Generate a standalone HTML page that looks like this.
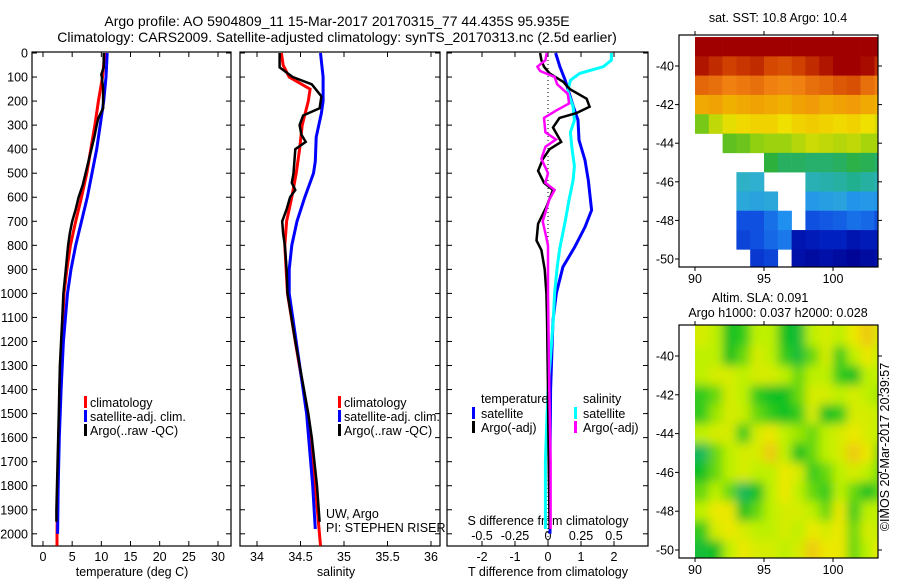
<!DOCTYPE html>
<html><head><meta charset="utf-8"><style>
body{margin:0;background:#fff;}
svg{display:block;font-family:"Liberation Sans",sans-serif;}
text{font-size:12.5px;fill:#000;}
.title{font-size:14px;}
</style></head><body>
<svg id="fig" width="900" height="580" viewBox="0 0 900 580">
<defs>
<filter id="blur" x="-5%" y="-5%" width="110%" height="110%"><feGaussianBlur stdDeviation="5"/></filter>
<clipPath id="clipSla"><rect x="695" y="325" width="183" height="233"/></clipPath>
</defs>
<text class="title" x="337" y="26" text-anchor="middle">Argo profile: AO 5904809_11 15-Mar-2017 20170315_77 44.435S 95.935E</text>
<text class="title" x="337" y="42" text-anchor="middle">Climatology: CARS2009. Satellite-adjusted climatology: synTS_20170313.nc (2.5d earlier)</text>
<g id="g"></g>
</svg>
<script>
// ---------- data ----------
var depthTicks=[0,100,200,300,400,500,600,700,800,900,1000,1100,1200,1300,1400,1500,1600,1700,1800,1900,2000];
var tempTicks=[0,5,10,15,20,25,30];
var salTicks=[34,34.5,35,35.5,36];
var salTickLabels=["34","34.5","35","35.5","36"];
var tdiffTicks=[-2,-1,0,1,2];
var sdiffTicks=[-0.5,-0.25,0,0.25,0.5];
var sdiffTickLabels=["-0.5","-0.25","0","0.25","0.5"];

var tArgoD=[0,60,90,100,150,200,230,250,270,300,350,400,450,500,550,600,650,700,750,800,900,1000,1100,1200,1300,1400,1500,1600,1700,1800,1900,1950];
var tArgoV=[10.4,10.4,10.0,10.1,10.3,10.3,10.3,9.9,9.5,9.2,8.8,8.3,7.8,7.3,6.8,6.1,5.6,5.0,4.6,4.3,3.9,3.5,3.3,3.1,2.9,2.8,2.7,2.6,2.5,2.4,2.3,2.3];
var tClimD=[0,100,200,300,400,500,600,700,800,900,1000,1200,1400,1600,1800,2000,2050];
var tClimV=[10.6,10.2,9.5,8.9,8.2,7.5,6.6,5.6,4.7,4.1,3.6,3.2,2.9,2.7,2.5,2.4,2.4];
var tSatD=[0,100,200,300,400,500,600,700,800,900,1000,1200,1400,1600,1800,2000];
var tSatV=[11.0,10.8,10.4,9.8,9.2,8.4,7.6,6.6,5.6,4.8,4.2,3.5,3.1,2.8,2.6,2.5];

var sArgoD=[0,60,100,130,180,230,260,300,340,370,400,450,500,540,570,600,650,700,750,800,900,1000,1200,1400,1500,1600,1800,1950];
var sArgoV=[34.26,34.26,34.41,34.63,34.74,34.72,34.53,34.49,34.51,34.56,34.44,34.43,34.42,34.40,34.44,34.38,34.34,34.29,34.30,34.32,34.34,34.35,34.44,34.54,34.59,34.63,34.69,34.72];
var sClimD=[0,50,100,150,200,300,400,500,600,700,800,1000,1200,1500,1800,2050];
var sClimV=[34.28,34.30,34.37,34.61,34.59,34.52,34.49,34.45,34.40,34.34,34.32,34.35,34.44,34.58,34.67,34.73];
var sSatD=[0,100,200,250,350,450,500,600,700,800,900,1000,1200,1500,1800,1980];
var sSatV=[34.73,34.76,34.76,34.74,34.68,34.67,34.65,34.55,34.46,34.40,34.37,34.37,34.45,34.57,34.64,34.67];

var dtSatD=[0,57,113,224,279,362,446,529,654,724,807,890,1000,1112,1400,1700,2000];
var dtSatV=[0.23,0.36,0.52,0.77,0.91,0.94,1.12,1.22,1.32,1.12,0.81,0.45,0.25,0.15,0.08,0.06,0.06];
var dsSatD=[0,30,57,85,113,160,224,280,330,390,470,530,610,700,810,890,1000,1112,1400,1700,1980];
var dsSatV=[0.48,0.48,0.42,0.24,0.17,0.15,0.19,0.20,0.17,0.18,0.20,0.19,0.16,0.13,0.09,0.07,0.05,0.04,0.0,-0.02,-0.02];
var dtArgoD=[0,30,57,85,120,150,190,224,250,270,310,370,400,440,490,540,570,640,710,780,820,900,1000,1100,1400,1700,1980];
var dtArgoV=[-0.24,-0.2,-0.12,0.05,0.46,0.66,1.17,1.26,0.86,0.35,0.15,0.40,0.05,-0.15,-0.30,-0.12,0.15,-0.05,-0.30,-0.35,-0.2,-0.1,-0.05,-0.03,0.0,0.02,0.05];
var dsArgoD=[0,30,57,75,100,130,170,210,240,270,330,360,390,440,500,540,570,610,700,750,800,1000,1400,1700,1980];
var dsArgoV=[-0.01,-0.02,-0.08,-0.06,0.05,0.07,0.15,0.16,0.06,-0.03,-0.02,0.06,-0.02,-0.05,0.0,-0.02,0.05,0.01,-0.04,-0.02,0.0,0.0,0.01,0.02,0.02];

var mapLons=[90,91,92,93,94,95,96,97,98,99,100,101,102,103];
var mapLats=[-38.5,-39.5,-40.5,-41.5,-42.5,-43.5,-44.5,-45.5,-46.5,-47.5,-48.5,-49.5];
var N=null;
var sstGrid=[
[12.6,12.6,12.6,12.6,12.6,12.5,12.5,12.4,12.4,12.5,12.6,12.6,12.5,12.4],
[12.2,12.0,11.8,11.9,12.0,11.7,11.6,11.8,12.0,12.2,12.4,12.5,12.3,12.0],
[11.3,11.2,11.0,11.1,11.2,11.0,10.9,11.0,11.2,11.3,11.5,11.6,11.2,11.0],
[10.4,10.5,10.3,10.4,10.5,10.4,10.3,10.5,10.6,10.4,10.5,10.6,10.4,10.3],
[8.6,9.2,9.5,9.7,9.8,9.8,9.6,9.8,9.9,9.8,9.7,9.8,9.6,9.4],
[N,N,8.4,8.5,8.8,8.9,8.9,9.1,9.3,9.2,9.1,9.2,9.0,9.0],
[N,N,N,N,N,7.9,7.6,7.6,7.5,7.5,7.6,7.8,7.7,7.5],
[N,N,N,6.6,6.5,N,N,N,6.8,6.9,7.0,7.2,7.0,6.8],
[N,N,N,6.3,6.2,6.3,N,N,6.0,6.1,6.2,5.9,6.0,5.9],
[N,N,N,5.0,5.0,5.4,5.8,N,5.0,5.1,5.2,5.4,5.3,5.0],
[N,N,N,4.9,5.0,5.3,5.5,4.4,4.5,4.6,4.6,4.4,4.5,4.5],
[N,N,N,N,4.8,4.9,N,4.3,4.2,4.3,4.2,4.1,4.2,4.3]];
var slaGrid=[
[2.5,2,1,1.2,2,2,1,0.8,2,2.5,2,3,3.5,2.5],
[2,2,1,1.5,2.5,2,1.2,0.8,1.5,2.5,1.2,2,3,2],
[2,2.5,2.5,2,2.5,2.5,2,1.5,2,2,1.2,1,2,2],
[1.2,1.5,2.5,2,1.2,1,1,1.5,2.5,2.5,2,2.5,2,1.8],
[1.2,1.8,2.5,2.2,1.5,1.2,1,1.2,2.5,1,1.2,2.5,2.5,2],
[2,2.5,2.5,1.2,2.5,3,2,1.8,1.5,2,2.5,3,2.5,2],
[0.5,1.5,2,2.5,2.5,3.5,2,1,1.5,2,2.5,3.5,3,1.5],
[1,1.5,2,2.5,2,2,3,2.5,1.2,1.5,2,2.5,2,1.5],
[1.5,2,1.5,0.5,1,2,3,2,1.5,1.2,2,1.5,1,1.5],
[2,3,3,1,1.5,2,2.5,2.5,2,1.5,3,1.2,2,2],
[1.2,2.5,3,2.5,2,2,2.5,2,3,2.5,3,1.5,2.5,2],
[0.8,1,2,3,2.5,2.5,2,2.5,3.5,3,3,1.5,2,3]];
var mapLatTicks=[-40,-42,-44,-46,-48,-50];
var mapLonTicks=[90,95,100];

// ---------- helpers ----------
var NS="http://www.w3.org/2000/svg";
var G=document.getElementById('g');
function el(tag,attrs,parent){var e=document.createElementNS(NS,tag);for(var k in attrs)e.setAttribute(k,attrs[k]);(parent||G).appendChild(e);return e;}
function txt(x,y,s,anchor,name){var t=el('text',{x:x,y:y,'text-anchor':anchor||'start'});t.textContent=s;


return t;}
var TOP=52,BOT=546;
function yD(d){return 53+d*0.2404;}
function lin(d0,d1,r0,r1){return function(v){return r0+(v-d0)*(r1-r0)/(d1-d0);};}
var P1={l:32,r:231,x:lin(0,30,43,218)};
var P2={l:240,r:440,x:lin(34,36,257,431)};
var P3={l:447,r:648,x:lin(0,2,548,614)};
var xS3=lin(0,0.5,548,614);

function frame(P,name){
  var r=el('rect',{x:P.l,y:TOP,width:P.r-P.l,height:BOT-TOP,fill:'none',stroke:'#000','stroke-width':1.2});
  
  
  depthTicks.forEach(function(d){var y=yD(d);
    el('line',{x1:P.l,x2:P.l+5,y1:y,y2:y,stroke:'#000'});
    el('line',{x1:P.r,x2:P.r-5,y1:y,y2:y,stroke:'#000'});});
}
function xticks(P,ticks,fx,labels,name){
  ticks.forEach(function(v,i){var x=fx(v);
    el('line',{x1:x,x2:x,y1:TOP,y2:TOP+5,stroke:'#000'});
    el('line',{x1:x,x2:x,y1:BOT,y2:BOT-5,stroke:'#000'});
    txt(x,561,labels?labels[i]:String(v),'middle',name);});
}
function series(D,V,fx,color,w,name){
  var pts=D.map(function(d,i){return fx(V[i]).toFixed(1)+','+yD(d).toFixed(1);}).join(' ');
  var p=el('polyline',{points:pts,fill:'none',stroke:color,'stroke-width':w,'stroke-linejoin':'miter'});
  
  
}
function legBar(x,y,color,name){var r=el('rect',{x:x,y:y-6,width:3,height:12,fill:color});
  
  }

// panels
frame(P1,'temperature-panel');frame(P2,'salinity-panel');frame(P3,'difference-panel');
depthTicks.forEach(function(d){txt(28,yD(d)+4.5,String(d),'end','depth-tick-label');});
xticks(P1,tempTicks,P1.x,null,'temperature-tick-label');
xticks(P2,salTicks,P2.x,salTickLabels,'salinity-tick-label');
xticks(P3,tdiffTicks,P3.x,null,'t-diff-tick-label');
sdiffTicks.forEach(function(v,i){txt(xS3(v),540,sdiffTickLabels[i],'middle','s-diff-tick-label');});
txt(132,576,'temperature (deg C)','middle','temperature-axis-title');
txt(336,576,'salinity','middle','salinity-axis-title');
txt(548,576,'T difference from climatology','middle','t-diff-axis-title');
txt(548,525,'S difference from climatology','middle','s-diff-axis-title');

// panel 1
series(tClimD,tClimV,P1.x,'#ff0000',3,'temp-climatology-line');
series(tSatD,tSatV,P1.x,'#0000ff',3,'temp-satellite-line');
series(tArgoD,tArgoV,P1.x,'#000',2.5,'temp-argo-line');
// panel 2
series(sClimD,sClimV,P2.x,'#ff0000',3,'sal-climatology-line');
series(sSatD,sSatV,P2.x,'#0000ff',3,'sal-satellite-line');
series(sArgoD,sArgoV,P2.x,'#000',2.5,'sal-argo-line');
// panel 3
el('line',{x1:P3.x(0),x2:P3.x(0),y1:TOP,y2:BOT,stroke:'#000','stroke-dasharray':'1,3'});
series(dtSatD,dtSatV,P3.x,'#0000ff',3,'tdiff-satellite-line');
series(dsSatD,dsSatV,xS3,'#00ffff',3,'sdiff-satellite-line');
series(dtArgoD,dtArgoV,P3.x,'#000',2.5,'tdiff-argo-line');
series(dsArgoD,dsArgoV,xS3,'#ff00ff',2.5,'sdiff-argo-line');

// legends
[[84,90],[338,344]].forEach(function(p,k){
  legBar(p[0],402,'#ff0000','legend-climatology-swatch');txt(p[1],407,'climatology','start','legend-climatology');
  legBar(p[0],416,'#0000ff','legend-satellite-swatch');txt(p[1],421,'satellite-adj. clim.','start','legend-satellite');
  legBar(p[0],430,'#000','legend-argo-swatch');txt(p[1],435,'Argo(..raw -QC)','start','legend-argo');});
txt(481,403,'temperature','start','legend-temperature-heading');
legBar(472,413,'#0000ff','legend-t-satellite-swatch');txt(481,418,'satellite','start','legend-t-satellite');
legBar(472,427,'#000','legend-t-argo-swatch');txt(481,432,'Argo(-adj)','start','legend-t-argo');
txt(583,403,'salinity','start','legend-salinity-heading');
legBar(574,413,'#00ffff','legend-s-satellite-swatch');txt(583,418,'satellite','start','legend-s-satellite');
legBar(574,427,'#ff00ff','legend-s-argo-swatch');txt(583,432,'Argo(-adj)','start','legend-s-argo');
txt(326,518,'UW, Argo','start','institution-label');
txt(326,532,'PI: STEPHEN RISER','start','pi-label');

// ---------- maps ----------
var sstStops=[[4.0,[0,0,144]],[4.6,[0,32,192]],[5.0,[16,80,224]],[5.8,[32,144,240]],[6.5,[48,176,208]],[7.2,[32,176,144]],[8.0,[48,176,48]],[8.8,[144,208,16]],[9.6,[240,224,0]],[10.3,[240,176,0]],[11.0,[240,128,16]],[11.8,[208,64,0]],[12.4,[160,0,0]]];
function sstCol(v){var s=sstStops;if(v<=s[0][0])return 'rgb('+s[0][1].join(',')+')';
  for(var k=0;k<s.length-1;k++){if(v<=s[k+1][0]){var f=(v-s[k][0])/(s[k+1][0]-s[k][0]),a=s[k][1],b=s[k+1][1];
    return 'rgb('+[0,1,2].map(function(j){return Math.round(a[j]+(b[j]-a[j])*f);}).join(',')+')';}}
  return 'rgb('+s[s.length-1][1].join(',')+')';}
var slaStops=[[32,176,150],[16,192,32],[190,240,0],[236,232,0],[240,170,32]];
function slaCol(v){var i=Math.max(0,Math.min(3.999,v)),k=Math.floor(i),f=i-k,a=slaStops[k],b=slaStops[k+1];
  return 'rgb('+[0,1,2].map(function(j){return Math.round(a[j]+(b[j]-a[j])*f);}).join(',')+')';}

function mapAxes(M,name){
  var r=el('rect',{x:M.l,y:M.t,width:M.r-M.l,height:M.b-M.t,fill:'none',stroke:'#000','stroke-width':1.2});
  
  
  mapLatTicks.forEach(function(v){var y=M.y(v);
    el('line',{x1:M.l-4,x2:M.l,y1:y,y2:y,stroke:'#000'});
    el('line',{x1:M.r,x2:M.r+4,y1:y,y2:y,stroke:'#000'});
    txt(M.l-5,y+4.5,String(v),'end','map-lat-label');});
  mapLonTicks.forEach(function(v){var x=M.x(v);
    el('line',{x1:x,x2:x,y1:M.t-4,y2:M.t,stroke:'#000'});
    el('line',{x1:x,x2:x,y1:M.b,y2:M.b+4,stroke:'#000'});
    txt(x,M.b+16,String(v),'middle','map-lon-label');});
}
var M1={l:679,r:878,t:35,b:267,x:lin(90,100,695,833),y:lin(-40,-50,66,259)};
var M2={l:679,r:878,t:325,b:558,x:lin(90,100,695,833),y:lin(-40,-50,356,550)};
var g1=el('g',{}),g2=el('g',{'clip-path':'url(#clipSla)'}),g2b=el('g',{filter:'url(#blur)'},g2);
mapLats.forEach(function(lat,j){mapLons.forEach(function(lon,i){
  var x0=M1.x(lon),x1=Math.min(M1.r,M1.x(lon+1)),y0=Math.max(M1.t,M1.y(lat)),y1=Math.min(M1.b,M1.y(lat-1));
  var v=sstGrid[j][i];
  if(v!==null){var c=el('rect',{x:x0,y:y0,width:x1-x0+0.3,height:y1-y0+0.3,fill:sstCol(v)},g1);
    
    }
  var s=slaGrid[j][i];
  var X0=M2.x(lon)-(i===0?20:0),X1=M2.x(lon+1)+(i===13?20:0),Y0=M2.y(lat)-(j===0?20:0),Y1=M2.y(lat-1)+(j===11?20:0);
  var c2=el('rect',{x:X0,y:Y0,width:X1-X0+0.3,height:Y1-Y0+0.3,fill:slaCol(s)},g2b);
  
  
});});
mapAxes(M1,'sst-map');mapAxes(M2,'sla-map');
txt(778,22,'sat. SST: 10.8 Argo: 10.4','middle','sst-map-title');
txt(760,302,'Altim. SLA: 0.091','middle','sla-map-title');
txt(778,317,'Argo h1000: 0.037 h2000: 0.028','middle','sla-map-subtitle');
var cp=txt(0,0,'\u00A9IMOS 20-Mar-2017 20:39:57','middle','timestamp-label');
cp.setAttribute('transform','translate(889,447) rotate(-90)');
</script>
</body></html>
